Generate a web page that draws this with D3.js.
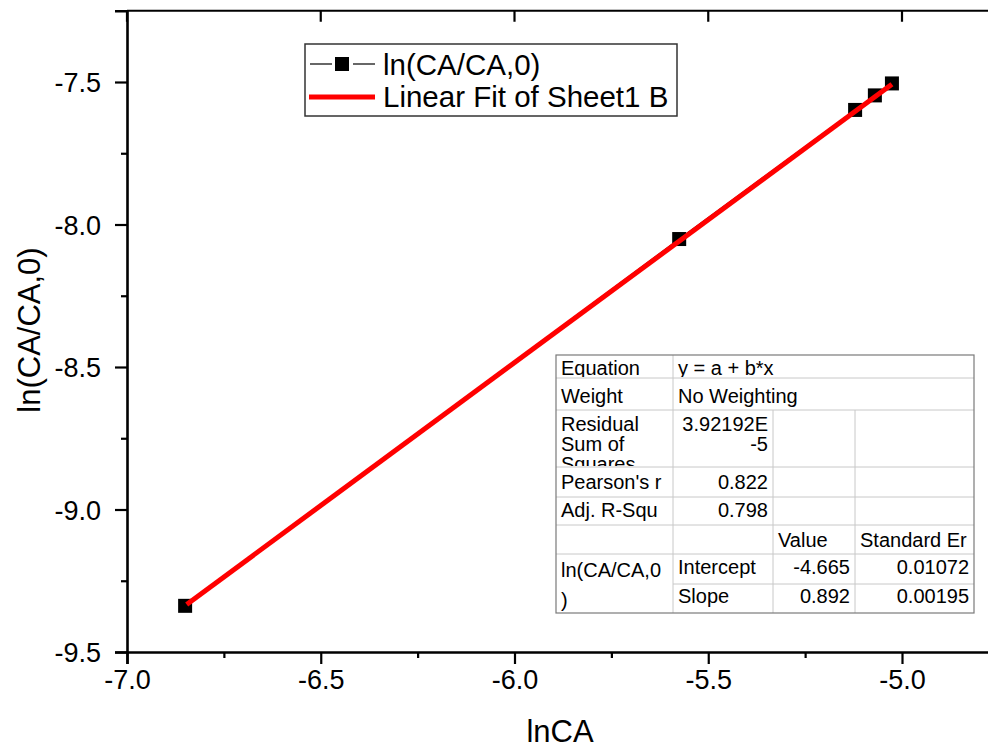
<!DOCTYPE html>
<html>
<head>
<meta charset="utf-8">
<script src="https://cdn.jsdelivr.net/npm/d3@7"></script>
<style>
  html, body { margin: 0; padding: 0; background: #fff; }
  svg { display: block; font-family: "Liberation Sans", Arial, sans-serif; }
</style>
</head>
<body>
<svg id="chart" width="988" height="749"></svg>
<script>
// data
const lnCA = [-6.85, -5.575, -5.121, -5.07, -5.026];
const lnRatio = [-9.338, -8.051, -7.598, -7.547, -7.505];
const fitX = [-6.846, -5.026];
const fitY = [-9.333, -7.508];
const xMajor = [-7.0, -6.5, -6.0, -5.5, -5.0];
const xMinor = [-6.75, -6.25, -5.75, -5.25];
const yMajor = [-9.5, -9.0, -8.5, -8.0, -7.5];
const yMinor = [-9.25, -8.75, -8.25, -7.75];
const legendLabels = ['ln(CA/CA,0)', 'Linear Fit of Sheet1 B'];

// fit report table rows
const tableRows = [
  ['Equation', 'y = a + b*x'],
  ['Weight', 'No Weighting'],
  ['Residual\nSum of\nSquares', '3.92192E\n-5', '', ''],
  ["Pearson's r", '0.822', '', ''],
  ['Adj. R-Squ', '0.798', '', ''],
  ['', '', 'Value', 'Standard Er'],
  ['ln(CA/CA,0\n)', 'Intercept', '-4.665', '0.01072'],
  [null, 'Slope', '0.892', '0.00195']
];

const svg = d3.select('#chart');
const left = 127, bottom = 652;

const x = d3.scaleLinear().domain([-7.0, -4.75]).range([left, left + 2.25 * 387.5]);
const y = d3.scaleLinear().domain([-9.5, -7.25]).range([bottom, bottom - 2.25 * 285]);
const fmt = d3.format('.1f');
const minus = s => s.replace('\u2212', '-');

// frame top
const frame = svg.append('g');
frame.append('line').attr('x1', left).attr('x2', x.range()[1]).attr('y1', y.range()[1]).attr('y2', y.range()[1])
  .attr('stroke', '#000').attr('stroke-width', 2.2);
frame.selectAll('.ttick').data(xMajor).join('line')
  .attr('x1', d => x(d)).attr('x2', d => x(d))
  .attr('y1', y.range()[1]).attr('y2', y.range()[1] + 11)
  .attr('stroke', '#000').attr('stroke-width', 2.2);

// axes
const xAxis = svg.append('g').attr('transform', `translate(0,${bottom})`)
  .call(d3.axisBottom(x).tickValues(xMajor).tickSize(12).tickPadding(6).tickFormat(d => minus(fmt(d))));
svg.append('g').attr('transform', `translate(0,${bottom})`)
  .call(d3.axisBottom(x).tickValues(xMinor).tickSize(6).tickFormat(''))
  .call(g => g.select('.domain').remove());
const yAxis = svg.append('g').attr('transform', `translate(${left},0)`)
  .call(d3.axisLeft(y).tickValues(yMajor).tickSize(12).tickPadding(14).tickFormat(d => minus(fmt(d))));
svg.append('g').attr('transform', `translate(${left},0)`)
  .call(d3.axisLeft(y).tickValues(yMinor).tickSize(6).tickFormat(''))
  .call(g => g.select('.domain').remove());

svg.selectAll('.domain').attr('stroke-width', 2.6);
svg.selectAll('.tick line').attr('stroke-width', 2.2);
xAxis.selectAll('text').attr('font-size', 27).attr('font-family', '"Liberation Sans", Arial, sans-serif').attr('fill', '#000');
yAxis.selectAll('text').attr('font-size', 27).attr('font-family', '"Liberation Sans", Arial, sans-serif').attr('fill', '#000')
  .attr('dy', '0.36em');

// axis titles
svg.append('text').attr('x', 560).attr('y', 742).attr('text-anchor', 'middle')
  .attr('font-size', 31).text('lnCA');
svg.append('text').attr('transform', 'translate(40,330) rotate(-90)').attr('text-anchor', 'middle')
  .attr('font-size', 31).text('ln(CA/CA,0)');

// series
const pts = lnCA.map((v, i) => [v, lnRatio[i]]);
svg.append('path').datum(pts)
  .attr('d', d3.line().x(d => x(d[0])).y(d => y(d[1])))
  .attr('fill', 'none').attr('stroke', '#000').attr('stroke-width', 1.2);
svg.selectAll('.pt').data(pts).join('rect')
  .attr('x', d => x(d[0]) - 7).attr('y', d => y(d[1]) - 7)
  .attr('width', 14).attr('height', 14).attr('fill', '#000');

// linear fit
svg.append('path').datum(fitX.map((v, i) => [v, fitY[i]]))
  .attr('d', d3.line().x(d => x(d[0])).y(d => y(d[1])))
  .attr('fill', 'none').attr('stroke', '#ff0000').attr('stroke-width', 5);

// legend
const lg = svg.append('g');
lg.append('rect').attr('x', 305).attr('y', 44).attr('width', 372).attr('height', 72)
  .attr('fill', '#fff').attr('stroke', '#333').attr('stroke-width', 1.5);
lg.append('line').attr('x1', 310).attr('x2', 332).attr('y1', 64).attr('y2', 64).attr('stroke', '#000').attr('stroke-width', 1.2);
lg.append('line').attr('x1', 353).attr('x2', 375).attr('y1', 64).attr('y2', 64).attr('stroke', '#000').attr('stroke-width', 1.2);
lg.append('rect').attr('x', 335).attr('y', 57).attr('width', 14).attr('height', 14).attr('fill', '#000');
lg.append('line').attr('x1', 309).attr('x2', 375).attr('y1', 97).attr('y2', 97).attr('stroke', '#ff0000').attr('stroke-width', 5);
lg.selectAll('.lt').data(legendLabels).join('text')
  .attr('x', 383).attr('y', (d, i) => 75 + i * 32)
  .attr('font-size', 29.5).text(d => d);

// fit report table
const colX = [556, 673, 773, 855, 974];
const rowY = [355, 378, 410, 467, 497, 525, 554, 584, 613];
const rowBase = [375, 403, 431, 489, 517, 547, 574, 603];
const tb = svg.append('g').attr('font-size', 20);
tb.append('rect').attr('x', colX[0]).attr('y', rowY[0]).attr('width', colX[4] - colX[0]).attr('height', rowY[8] - rowY[0])
  .attr('fill', '#fff');
const grid = '#c8c8c8';
// horizontal lines
rowY.slice(1, 8).forEach((ry, i) => {
  const x0 = (i + 1 === 7) ? colX[1] : colX[0];
  tb.append('line').attr('x1', x0).attr('x2', colX[4]).attr('y1', ry).attr('y2', ry).attr('stroke', grid);
});
// vertical lines
tb.append('line').attr('x1', colX[1]).attr('x2', colX[1]).attr('y1', rowY[0]).attr('y2', rowY[8]).attr('stroke', grid);
[2, 3].forEach(c => tb.append('line').attr('x1', colX[c]).attr('x2', colX[c]).attr('y1', rowY[2]).attr('y2', rowY[8]).attr('stroke', grid));
tb.append('rect').attr('x', colX[0]).attr('y', rowY[0]).attr('width', colX[4] - colX[0]).attr('height', rowY[8] - rowY[0])
  .attr('fill', 'none').attr('stroke', '#7a7a7a').attr('stroke-width', 1.2);

const defs = svg.append('defs');
tableRows.forEach((row, r) => {
  row.forEach((cell, c) => {
    if (!cell) return;
    const span2 = row.length === 2 && c === 1;
    const x0 = colX[c], x1 = span2 ? colX[4] : colX[c + 1];
    const y0 = rowY[r], y1 = (r === 6 && c === 0) ? rowY[8] : rowY[r + 1];
    const numeric = /^[-0-9.]/.test(cell) && !span2;
    const id = `clip-${r}-${c}`;
    defs.append('clipPath').attr('id', id).append('rect')
      .attr('x', x0 + 1).attr('y', y0 + 1).attr('width', x1 - x0 - 2).attr('height', y1 - y0 - 2);
    const t = tb.append('text').attr('clip-path', `url(#${id})`)
      .attr('text-anchor', numeric ? 'end' : 'start')
      .attr('fill', '#000');
    const lines = cell.split('\n');
    const base = (r === 6 && c === 0) ? rowBase[r] + 3 : rowBase[r];
    const lh = (r === 6 && c === 0) ? 30 : 20;
    lines.forEach((ln, k) => {
      t.append('tspan').attr('x', numeric ? x1 - 5 : x0 + 5).attr('y', base + k * lh).text(ln);
    });
  });
});
</script>
</body>
</html>
